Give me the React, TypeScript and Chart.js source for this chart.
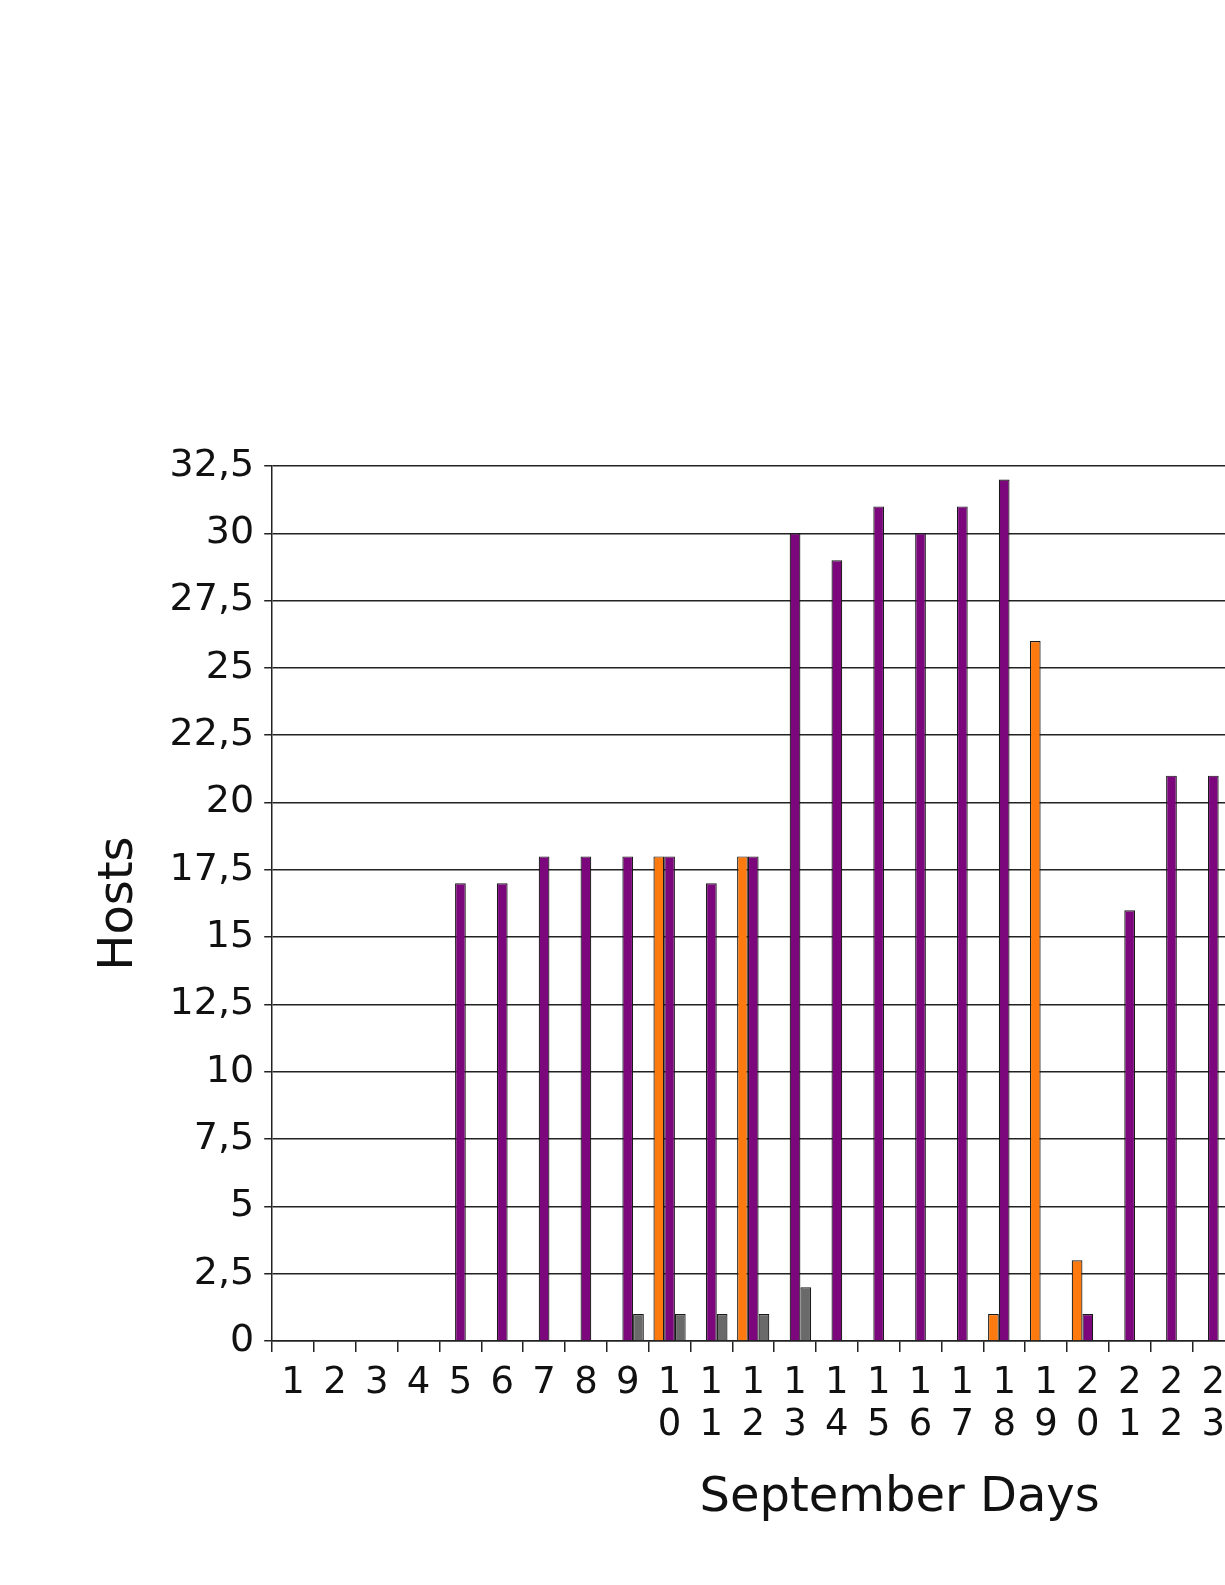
import React, { useEffect, useRef } from 'react';
import { Chart, registerables } from 'chart.js';

Chart.register(...registerables);

// September days (only 1-23 are visible in the source, the rest is cut off on the right)
const days = Array.from({ length: 30 }, (_, i) => String(i + 1));

const orangeHosts = [0, 0, 0, 0, 0, 0, 0, 0, 0, 18, 0, 18, 0, 0, 0, 0, 0, 1, 26, 3, 0, 0, 0, null, null, null, null, null, null, null];
const purpleHosts = [0, 0, 0, 0, 17, 17, 18, 18, 18, 18, 17, 18, 30, 29, 31, 30, 31, 32, 0, 1, 16, 21, 21, null, null, null, null, null, null, null];
const grayHosts = [0, 0, 0, 0, 0, 0, 0, 0, 1, 1, 1, 1, 2, 0, 0, 0, 0, 0, 0, 0, 0, 0, 0, null, null, null, null, null, null, null];

const yMin = 0;
const yMax = 32.5;
const yStep = 2.5;

const FONT = "'DejaVu Sans', Verdana, sans-serif";

export default function App() {
    const canvasRef = useRef<HTMLCanvasElement | null>(null);

    useEffect(() => {
        let chart: Chart | null = null;
        const ctx = canvasRef.current?.getContext('2d');
        if (ctx) {
            chart = new Chart(ctx, {
                type: 'bar',
                data: {
                    // two-digit days are written one digit per line
                    labels: days.map(d => (d.length > 1 ? d.split('') : d)),
                    datasets: [
                        { label: 'orange', data: orangeHosts, backgroundColor: '#ff7a0e', borderColor: '#1a1a1a', borderWidth: 1.2 },
                        { label: 'purple', data: purpleHosts, backgroundColor: '#7c067c', borderColor: '#1a1a1a', borderWidth: 1.2 },
                        { label: 'gray', data: grayHosts, backgroundColor: '#6a6a6a', borderColor: '#1a1a1a', borderWidth: 1.2 },
                    ],
                },
                options: {
                    responsive: true,
                    maintainAspectRatio: false,
                    animation: false,
                    datasets: { bar: { categoryPercentage: 0.77, barPercentage: 1 } },
                    layout: { padding: { top: 466, left: 91, right: 44, bottom: 54 } },
                    plugins: { legend: { display: false }, tooltip: { enabled: false } },
                    scales: {
                        x: {
                            offset: true,
                            grid: { drawOnChartArea: false, drawTicks: true, tickLength: 11, color: '#222', lineWidth: 1.5, offset: true },
                            border: { color: '#222', width: 1.5 },
                            ticks: { color: '#111', font: { family: FONT, size: 37, lineHeight: 1.14 }, padding: 10, maxRotation: 0, autoSkip: false },
                            title: { display: true, text: 'September Days', color: '#111', font: { family: FONT, size: 48 }, padding: { top: 13 } },
                        },
                        y: {
                            min: yMin,
                            max: yMax,
                            ticks: {
                                stepSize: yStep,
                                color: '#111',
                                font: { family: FONT, size: 38 },
                                padding: 10,
                                callback: (v: any) => String(v).replace('.', ','),
                            },
                            grid: { color: '#222', lineWidth: 1.5, tickLength: 8 },
                            border: { color: '#222', width: 1.5 },
                            title: { display: true, text: 'Hosts', color: '#111', font: { family: FONT, size: 48 }, padding: { top: 0, bottom: 11 } },
                        },
                    },
                },
            });
        }
        return () => {
            if (chart) chart.destroy();
        };
    }, []);

    return (
        <div style={{ position: 'fixed', left: 0, top: 0, width: 1225, height: 1585, overflow: 'hidden', background: '#fff' }}>
            <div style={{ position: 'absolute', left: 0, top: 0, width: 1571, height: 1585 }}>
                <canvas ref={canvasRef}></canvas>
            </div>
        </div>
    );
}
